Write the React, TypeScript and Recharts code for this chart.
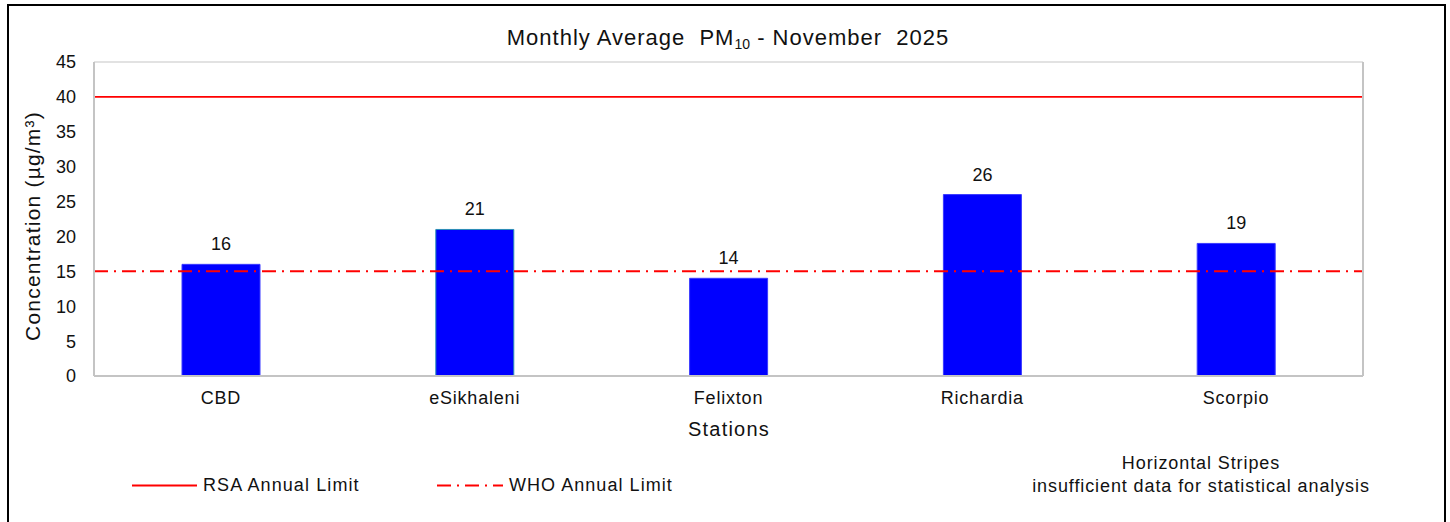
import React from 'react';
import { BarChart, Bar, XAxis, YAxis, CartesianGrid, ReferenceLine, LabelList, Cell } from 'recharts';

const stations = ['CBD', 'eSikhaleni', 'Felixton', 'Richardia', 'Scorpio'];
const pm10Values = [16, 21, 14, 26, 19];
const yTicks = [0, 5, 10, 15, 20, 25, 30, 35, 40, 45];
const rsaAnnualLimit = 40;
const whoAnnualLimit = 15;
const legendLabels = ['RSA Annual Limit', 'WHO Annual Limit'];
const noteLines = ['Horizontal Stripes', 'insufficient data for statistical analysis'];

const data = stations.map((s, i) => ({ station: s, value: pm10Values[i] }));

const FONT = '"Liberation Sans", Arial, sans-serif';
const TXT = '#111';

export default function App() {
  const tickStyle = { fontFamily: FONT, fontSize: 18, fill: TXT };
  const xTickStyle = { fontFamily: FONT, fontSize: 18, fill: TXT, letterSpacing: 0.8 };
  return (
    <div style={{ position: 'absolute', left: 0, top: 0, width: 1450, height: 522, overflow: 'hidden', background: '#fff', fontFamily: FONT }}>
      <div style={{ position: 'absolute', left: 7, top: 4, width: 1435, height: 560, border: '2px solid #000' }} />
      <div style={{ position: 'absolute', left: 0, top: 0 }}>
        <BarChart
          width={1450}
          height={522}
          data={data}
          margin={{ top: 62, left: 34, right: 27, bottom: 106 }}
        >
          <CartesianGrid vertical={false} stroke="#d9d9d9" strokeWidth={1.5} />
          <XAxis
            dataKey="station"
            height={40}
            tickLine={false}
            axisLine={{ stroke: '#c4c4c4', strokeWidth: 2 }}
            tickMargin={9}
            tick={xTickStyle}
            interval={0}
          />
          <YAxis
            yAxisId="left"
            orientation="left"
            width={60}
            domain={[0, 45]}
            ticks={yTicks}
            tickLine={false}
            axisLine={{ stroke: '#c4c4c4', strokeWidth: 2 }}
            tickMargin={12}
            tick={tickStyle}
            interval={0}
          />
          <YAxis
            yAxisId="right"
            orientation="right"
            width={60}
            domain={[0, 45]}
            ticks={yTicks}
            tickLine={false}
            axisLine={{ stroke: '#c4c4c4', strokeWidth: 2 }}
            tickMargin={12}
            tick={tickStyle}
            interval={0}
          />
          <Bar yAxisId="left" dataKey="value" fill="#0000ff" barSize={78} isAnimationActive={false}>
            {data.map((d, i) => (
              <Cell key={d.station} fill="#0000ff" stroke={i === 1 ? '#2a8fb5' : '#3a3aff'} strokeWidth={1} />
            ))}
            <LabelList dataKey="value" position="top" offset={14} style={{ fontFamily: FONT, fontSize: 18, fill: TXT }} />
          </Bar>
          <ReferenceLine yAxisId="left" y={rsaAnnualLimit} stroke="#ff0000" strokeWidth={1.8} />
          <ReferenceLine yAxisId="left" y={whoAnnualLimit} stroke="#ff0000" strokeWidth={2} strokeDasharray="14 6 2 6" />
        </BarChart>
      </div>

      {/* Title */}
      <div style={{ position: 'absolute', left: 0, width: 1456, top: 25, textAlign: 'center', fontSize: 22, letterSpacing: 1, color: TXT, whiteSpace: 'pre' }}>
        {'Monthly Average  PM'}<sub style={{ fontSize: 14, verticalAlign: 'baseline', position: 'relative', top: 4, letterSpacing: 0 }}>10</sub>{' - November  2025'}
      </div>

      {/* Y axis title */}
      <div style={{ position: 'absolute', left: 33, top: 226, transform: 'translate(-50%, -50%) rotate(-90deg)', fontSize: 21, letterSpacing: 1.2, color: TXT, whiteSpace: 'nowrap' }}>
        Concentration (µg/m³)
      </div>

      {/* X axis title */}
      <div style={{ position: 'absolute', left: 729, top: 429, transform: 'translate(-50%, -50%)', fontSize: 20, letterSpacing: 1.2, color: TXT, whiteSpace: 'nowrap' }}>
        Stations
      </div>

      {/* Legend */}
      <svg style={{ position: 'absolute', left: 0, top: 0 }} width={1450} height={522}>
        <line x1={132} x2={197} y1={485.5} y2={485.5} stroke="#ff0000" strokeWidth={1.8} />
        <line x1={437} x2={503} y1={485.5} y2={485.5} stroke="#ff0000" strokeWidth={2} strokeDasharray="14 6 2 6" />
      </svg>
      <div style={{ position: 'absolute', left: 203, top: 485, transform: 'translateY(-50%)', fontSize: 18, letterSpacing: 1.1, color: TXT, whiteSpace: 'nowrap' }}>
        {legendLabels[0]}
      </div>
      <div style={{ position: 'absolute', left: 509, top: 485, transform: 'translateY(-50%)', fontSize: 18, letterSpacing: 1.05, color: TXT, whiteSpace: 'nowrap' }}>
        {legendLabels[1]}
      </div>

      {/* Note */}
      <div style={{ position: 'absolute', left: 1201, top: 475, transform: 'translate(-50%, -50%)', fontSize: 18, letterSpacing: 0.9, lineHeight: '23px', color: TXT, whiteSpace: 'nowrap', textAlign: 'center' }}>
        <div>{noteLines[0]}</div>
        <div>{noteLines[1]}</div>
      </div>
    </div>
  );
}
